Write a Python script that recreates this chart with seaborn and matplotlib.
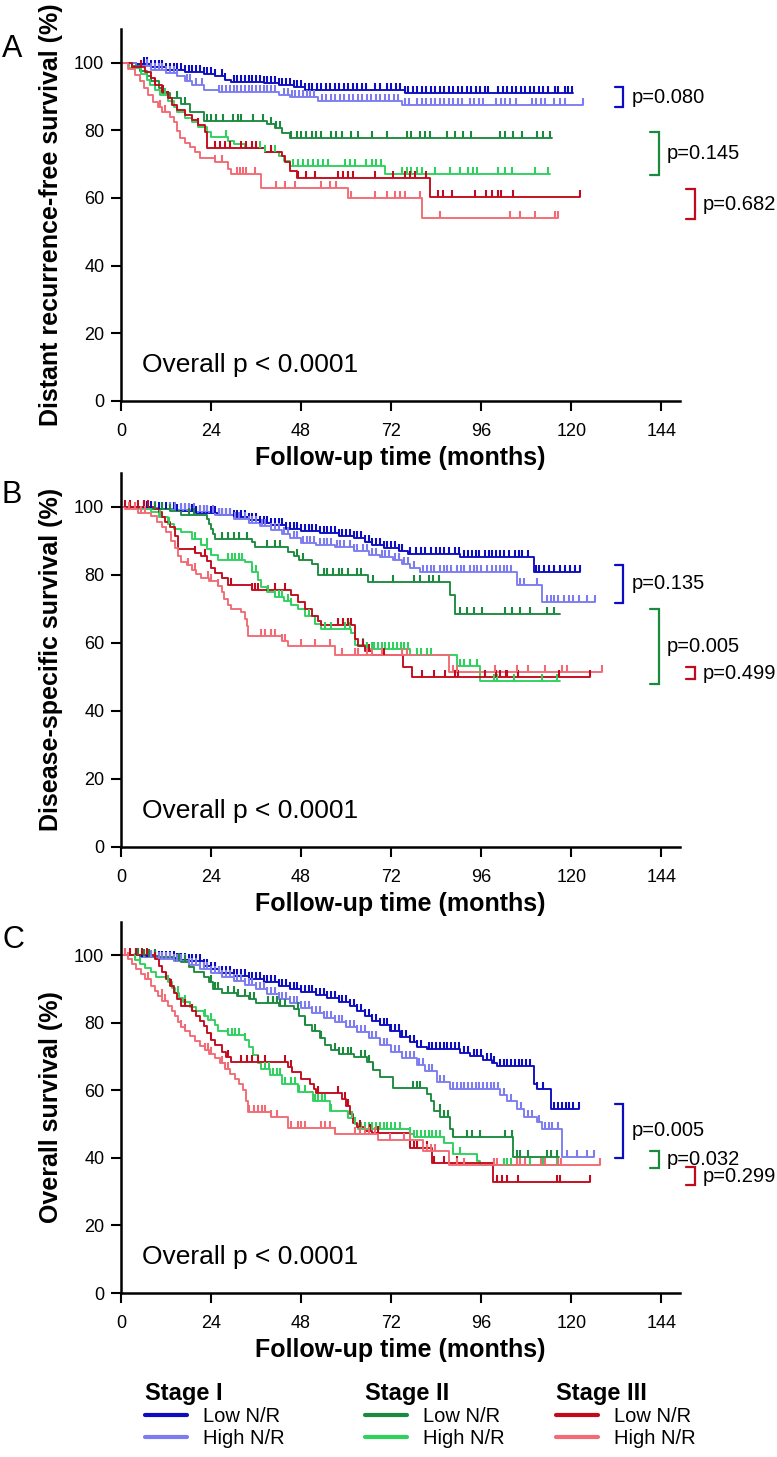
import numpy as np
import matplotlib
matplotlib.use("Agg")
import matplotlib.pyplot as plt
import seaborn as sns
from matplotlib.path import Path
from matplotlib.lines import Line2D

# ---------------- data (months, % surviving) ----------------
# Panel A: distant recurrence-free survival
a_s1_low_t = [0, 4, 8, 12, 17, 22, 25, 27.6, 29.4, 38, 42, 46, 49, 75.6]
a_s1_low_s = [100, 99.5, 98.8, 98, 97.2, 96.6, 96, 95, 94.4, 93.9, 93.4, 92.8, 92, 91]
a_s1_low_end = 120.5
a_s1_low_cens = [6, 7, 8, 9, 10, 11, 12, 13, 14, 15, 16, 17, 18, 19, 20, 21, 22, 23, 24, 25, 26.8, 27.6,
                 30, 31, 32, 33, 34, 35, 36, 37, 38, 39, 40, 41, 42, 43, 44, 45, 46, 47, 48, 49, 50, 51,
                 52.2, 53.4, 54.6, 55.8, 57, 58.2, 59.4, 60.6, 61.8, 63, 64.2, 65.4, 67.6, 69, 70.8, 72,
                 73.2, 74.4, 75.6, 76.6, 77.8, 79, 80.2, 81.4, 82.6, 83.8, 85, 86.2, 87.4, 88.6, 89.8, 91,
                 92.2, 93.4, 94.6, 95.8, 97, 97.9, 100.5, 101.7, 102.9, 104.1, 105.3, 106.5, 107.7, 108.9,
                 110.1, 111.3, 112.5, 113.9, 115.6, 116.5, 118.3, 119.2, 120.1]
a_s1_high_t = [0, 4, 8, 12, 15, 17, 19, 22, 26, 42, 45, 52.5, 74.8]
a_s1_high_s = [100, 99, 98, 97, 96, 94.5, 93.3, 92, 91.3, 90.5, 89.8, 88.6, 87.5]
a_s1_high_end = 123.2
a_s1_high_cens = [7, 8, 9, 10, 11, 12, 13, 14, 15, 17.5, 18.5, 20, 21.5, 26, 27, 28, 29, 30, 31, 32, 33,
                  34, 35, 36, 37, 38, 39, 40, 41, 43.5, 44.5, 45.5, 46.5, 47.5, 48.5, 49.5, 50.5, 51.5,
                  53.5, 54.7, 55.9, 57.1, 58.3, 59.5, 60.7, 61.9, 63.1, 64.3, 65.5, 66.7, 67.9, 69.1,
                  70.3, 71.5, 72.7, 73.9, 75.6, 76.8, 79, 80.2, 81.4, 82.6, 83.8, 85, 86.2, 87.4, 88.6,
                  89.8, 91, 93, 94.2, 95.4, 96.6, 100, 101.2, 102.4, 103.6, 105.3, 109.5, 110.7, 111.9,
                  113.1, 115.5, 117, 118.3, 123.2]
a_s2_low_t = [0, 3, 5, 7, 8, 10, 11, 13, 16, 18.3, 22, 39, 41, 43, 45]
a_s2_low_s = [100, 99, 97.5, 96, 94.5, 92.5, 91.2, 89.5, 87.8, 85.3, 82.8, 81.8, 80.8, 79.2, 77.8]
a_s2_low_end = 114.8
a_s2_low_cens = [14.8, 17, 22.8, 24.1, 25.4, 27.2, 29.9, 31.2, 32.1, 35.2, 37.9, 40.1, 41.4, 42.3, 45.4,
                 46.8, 48.1, 49.4, 50.8, 52.1, 53.4, 56.1, 57.4, 58.8, 61.4, 63.2, 66.8, 70.8, 76.1,
                 77.4, 79.6, 81, 82.3, 86.8, 89, 91.2, 93.4, 101, 102.3, 104.5, 106.8, 110.8, 112.5, 114.3]
a_s2_high_t = [0, 2, 5.4, 7, 7.6, 9, 10.5, 12.5, 14, 15, 17, 18.8, 20.5, 22.8, 24.1, 28.5, 30, 33, 38.3,
               42, 43.5, 45, 70.3]
a_s2_high_s = [100, 98.5, 96.8, 95, 93.5, 92, 90.5, 88.8, 87, 85.5, 83.8, 82.5, 81, 79.5, 78, 77, 76,
               74.8, 73.6, 72.4, 71, 69.5, 67.2]
a_s2_high_end = 114.3
a_s2_high_cens = [11.6, 28.1, 37, 38.3, 41, 45.9, 47.2, 48.5, 49.9, 51.2, 52.5, 53.9, 55.2, 59.6, 61,
                  62.3, 65.4, 66.8, 68.1, 69.4, 74.8, 76.1, 77.4, 78.8, 80.1, 83.6, 87.6, 90.3, 92.5,
                  93.9, 94.8, 100.5, 102.3, 104.1, 110.3, 113.9]
a_s3_low_t = [0, 2.8, 6.3, 8.1, 9, 10.8, 12.5, 13.5, 15, 17, 19, 20.5, 22.3, 22.8, 38.3, 42.8, 43.6, 45,
              46.8, 82.3]
a_s3_low_s = [100, 98.8, 97.3, 95.5, 93.5, 91.5, 89.5, 87.5, 86, 84.5, 83, 81.5, 79.5, 74.7, 73.7, 72.5,
              70.7, 68, 65.8, 60.4]
a_s3_low_end = 122.3
a_s3_low_cens = [5.4, 9, 11.2, 12.5, 20.5, 25, 26.3, 27.6, 29, 32.1, 33.4, 34.8, 36.1, 40.1, 47.2, 49.4,
                 51.6, 57.9, 59.2, 60.5, 61.9, 67.6, 72.5, 75.6, 77, 78.3, 81.4, 84.5, 85.9, 88.1,
                 94.3, 97.4, 98.8, 100.5, 101.4, 104.5, 122.3]
a_s3_high_t = [0, 1.9, 3.6, 5, 6, 7.2, 8.5, 9.9, 11, 13, 14, 14.8, 15.8, 17, 18.5, 19.6, 21, 25, 28.5,
               29.4, 37.4, 60.5, 80.1]
a_s3_high_s = [100, 98.3, 96.5, 94.5, 92.5, 90.5, 88.5, 87, 85.5, 84, 82.5, 79.8, 77.8, 76.3, 75, 73.5,
               71.8, 70.7, 68.7, 67, 62.8, 59.9, 54]
a_s3_high_end = 116.5
a_s3_high_cens = [10.3, 11.6, 25, 26.8, 30.8, 31.6, 32.5, 33.4, 35.6, 41.4, 43.6, 46.3, 53.4, 55.6, 57.4,
                  61.4, 67.6, 70.8, 73, 74.3, 75.6, 79.6, 85, 103.6, 106.3, 110.3, 115.6, 116.5]
a_p_text = ["p=0.080", "p=0.145", "p=0.682"]
a_p_top = [92.8, 79.6, 62.6]
a_p_bot = [86.9, 66.8, 53.7]

# Panel B: disease-specific survival
b_s1_low_t = [0, 4, 10, 15, 20, 26, 30, 34, 37, 40, 44, 48, 53, 58, 62, 65, 67, 70, 74, 76.5, 90.4, 110]
b_s1_low_s = [100, 99.7, 99.3, 98.8, 98.3, 97.6, 97, 96.2, 95.4, 94.6, 93.6, 93, 92.3, 91.5, 90.8,
              89.8, 88.8, 88, 87, 86.2, 85.4, 81]
b_s1_low_end = 122.4
b_s1_low_cens = [6, 7, 8, 9, 10, 11, 12, 13, 14, 15, 16, 17, 18, 19, 20, 21, 22, 23, 24, 25, 26, 27, 28,
                 29, 30, 31, 32, 33, 34, 35, 36, 37, 38, 39, 40, 41, 42, 43, 44, 45, 46, 47, 48, 49, 50,
                 51, 52, 53, 54, 55, 56, 57, 58, 59, 60, 61, 62, 63, 64, 65, 66, 67, 68, 69, 70, 71, 72,
                 73, 74, 75, 77, 78.5, 80, 81, 82.5, 84, 85, 86, 87.5, 89, 90, 91.5, 92.5, 93.5, 94.5,
                 95.5, 97, 98, 99, 100, 101, 102, 103.5, 105, 106, 107, 108.5, 110.5, 111.5, 112.8,
                 114, 115.5, 117, 118.3, 119.8, 121, 122.4]
b_s1_high_t = [0, 5, 10, 15, 20, 25, 30, 34, 37, 40, 43, 45, 48, 52, 57, 62, 66, 69, 72.6, 75, 77, 79.7,
               105.5, 112.2]
b_s1_high_s = [100, 99.7, 99.4, 99, 98.5, 97.6, 96.5, 95.3, 94.3, 93.3, 92, 90.8, 89.5, 88.8, 88.3, 87,
               86, 85.2, 84.3, 83.3, 82, 81, 77, 72]
b_s1_high_end = 126.4
b_s1_high_cens = [9, 11, 13, 14.5, 16, 17, 18, 19.5, 21, 22, 23, 24.5, 26, 27, 28, 29, 30.5, 31.5, 33, 34,
                  35, 36, 37.5, 38.5, 40, 41, 42, 43.5, 44.5, 46, 47, 48.5, 49.5, 50.5, 51.5, 53, 54,
                  55, 56, 57.5, 58.5, 59.5, 61, 62, 63, 64.5, 65.5, 67, 68, 69.5, 70.5, 71.5, 73, 74,
                  75.5, 76.5, 78, 80.5, 81.5, 82.5, 83.5, 85, 86, 87, 88, 89.5, 90.5, 91.5, 93, 94, 95,
                  96, 97.5, 99, 100, 101, 102, 103, 104, 106.4, 107.3, 110.8, 113.5, 114.5, 115.5,
                  116.5, 118, 119.5, 120.6, 122, 124.3, 126.4]
b_s2_low_t = [0, 8, 13, 16, 22.8, 23.5, 24, 24.5, 25, 34.8, 35.6, 44.5, 46, 47.5, 50.8, 52.5, 65.9,
              87.7, 89]
b_s2_low_s = [100, 99.5, 98.8, 97.5, 96.5, 95, 93.5, 92, 90.7, 89.8, 88.3, 86.8, 85.5, 84.5, 83.3, 80,
              77.8, 74, 68.5]
b_s2_low_end = 117
b_s2_low_cens = [9, 11, 13, 18, 19.5, 27, 28.5, 30, 31.5, 33.5, 39, 41, 42.5, 47, 48.5, 54, 55, 56.5,
                 58, 59, 60.5, 63, 64, 67.3, 72.6, 78, 79.7, 82.2, 83.2, 84.7, 90.4, 92.2, 94, 96.2,
                 102.4, 104.1, 106.4, 109, 113.5, 115.3]
b_s2_high_t = [0, 5, 8, 10, 12.5, 14, 16, 19, 21.4, 23, 24.1, 25.9, 33, 35, 36.5, 37.4, 39, 41, 43.5,
               45.4, 47.2, 49, 51.6, 53.4, 61.4, 62.3, 65, 77, 89.5, 95.7]
b_s2_high_s = [100, 99.5, 98.6, 97, 95, 93.5, 92.5, 90.5, 88.8, 87.5, 86, 84.5, 83.8, 81, 78.5, 76.5,
               75, 73.5, 72.2, 71, 70, 68, 65.5, 64, 63, 59.5, 58.2, 56.5, 53.2, 48.8]
b_s2_high_end = 117
b_s2_high_cens = [10.5, 12.8, 19.6, 21.4, 22.8, 24.1, 28.5, 29.5, 30.5, 31.5, 32.2, 35, 36, 39.2, 41, 42,
                  43, 44.5, 45.4, 50, 51.6, 54.3, 56, 59.6, 61, 64.6, 65.5, 66.8, 67.5, 68.5, 69.5,
                  70.5, 71.5, 72.5, 73.5, 74.5, 75.3, 76.6, 79, 80, 81.6, 82.5, 90.4, 91.5, 93, 94.9,
                  99.3, 100.2, 104.8, 112.2, 116.2]
b_s3_low_t = [0, 9, 10, 11, 11.6, 13, 14.3, 15.2, 19.6, 21.4, 23, 24.1, 25, 26.8, 28.5, 34.8, 45.4, 47.2,
              49, 50.8, 52.5, 53.4, 62.3, 63.2, 65, 66.8, 75.2, 77.5]
b_s3_low_s = [100, 99.5, 98.5, 97, 95.5, 94, 91.5, 87.5, 86.5, 85.5, 84, 82, 80.5, 79, 77, 75.5, 74, 72,
              70, 68, 66.5, 65.3, 61, 59.2, 57.7, 56.5, 53, 49.9]
b_s3_low_end = 125
b_s3_low_cens = [1, 2.5, 4.5, 6, 7.2, 19.6, 22.3, 29.4, 34.8, 35.6, 36.5, 41, 43.6, 57.9, 59.2, 60.5,
                 61.4, 64.6, 66, 70, 80.1, 83.3, 86.4, 89, 89.9, 97, 100, 101, 102.5, 103, 105.9,
                 116.7, 125]
b_s3_high_t = [0, 1, 4.5, 8.1, 9.5, 10.8, 12, 13.4, 14.3, 15.2, 16.1, 17.5, 18.8, 20, 21.4, 23.5, 25.9,
               26.8, 27.5, 28.5, 29.4, 32.1, 33, 33.5, 33.9, 42.8, 44.5, 57, 87.3]
b_s3_high_s = [100, 99.3, 98.3, 97.2, 95.5, 94, 92.5, 90, 88, 85.5, 83.8, 82.8, 81.5, 80.2, 79, 78.2,
               76.8, 75, 73, 71.2, 70, 69, 67, 65, 62.1, 60.5, 59, 56.5, 51.5]
b_s3_high_end = 128.2
b_s3_high_cens = [2, 3.7, 5.4, 6.3, 17.9, 19.6, 23.2, 24.1, 25.9, 37.4, 38.5, 40.1, 41, 42.8, 43.6,
                  48.1, 51.6, 55.6, 58.8, 62.3, 63.2, 65.5, 66.8, 69.5, 74.9, 76.2, 88.6, 89.5, 99.7,
                  105.5, 108.6, 113, 117.5, 118.8, 128.2]
b_p_text = ["p=0.135", "p=0.005", "p=0.499"]
b_p_top = [83, 70, 52.8]
b_p_bot = [71.8, 48, 49.3]

# Panel C: overall survival
c_s1_low_t = [0, 5, 10, 15, 18, 22, 24, 26, 30, 34, 38, 42, 45, 48, 52, 55, 58, 61, 63, 65, 67, 69,
              71.7, 74.4, 77, 79, 81.5, 90.4, 93, 96.6, 99, 100.2, 110, 110.8, 114.6]
c_s1_low_s = [100, 99.6, 99.2, 98.8, 98.3, 97, 96, 94.8, 94, 93, 92.2, 91, 90.2, 89.3, 88.3, 87.3, 86.3,
              85, 83.5, 82, 80.5, 79.3, 77.5, 75.8, 74.5, 73, 72.4, 71.2, 70.2, 69, 68, 67.2, 62, 60.5,
              54.5]
c_s1_low_end = 122
c_s1_low_cens = [4, 5.5, 7, 8, 9, 10, 11, 12, 13, 14, 15, 16, 17, 18, 19, 20, 21, 22, 23, 24, 25, 26,
                 27, 28, 29, 30, 31, 32, 33, 34, 35, 36, 37, 38, 39, 40, 41, 42, 43, 44, 45, 46, 47, 48,
                 49, 50, 51, 52, 53, 54, 55, 56, 57, 58, 59, 60, 61, 62, 63, 64, 65, 66, 67, 68, 69, 70,
                 71, 72, 73, 74, 75, 76, 77, 78, 79, 80, 82, 83, 84, 85, 86, 87, 88, 89, 90, 91.5, 92.5,
                 94, 95, 96, 97.5, 98.5, 99.5, 101, 102, 103, 104, 105, 106, 107, 108, 109, 111, 112.5,
                 115.5, 116.5, 117.5, 118.5, 119.5, 120.5, 122]
c_s1_high_t = [0, 5, 10, 14, 18, 21, 24, 27, 30, 33, 36, 39, 42, 45, 48, 51, 54, 57, 60, 63, 66, 69, 72,
               75, 78.8, 81, 84.2, 87.7, 101.1, 103, 105.5, 107.3, 110.8, 112.2, 117.6]
c_s1_high_s = [100, 99.5, 99, 98.3, 97.2, 96, 94.7, 93.6, 92.5, 91.3, 90, 88.5, 87.2, 85.8, 84.3, 83,
               81.6, 80.2, 78.8, 77.2, 75.5, 73.5, 71.5, 69.7, 67.5, 65.8, 62.5, 60.5, 58.8, 57, 54.5,
               52.2, 50.8, 48.7, 40.3]
c_s1_high_end = 126
c_s1_high_cens = [6, 8, 9, 10, 11, 12, 13, 14, 15, 16, 17, 18, 19, 20, 21, 22, 23, 24, 25, 26, 27, 28,
                  29, 30, 31, 32, 33, 34, 35, 36, 37, 38, 39, 40, 41, 42, 43, 44, 45, 46, 47, 48, 49,
                  50, 51, 52, 53, 54, 55, 56, 57, 58, 59, 60, 61, 62, 63, 64, 65, 66, 67, 68, 69, 70,
                  71, 72, 73, 74, 75, 76, 77, 78, 79.5, 80.5, 82, 83, 85, 86, 88.5, 89.5, 90.5, 91.5,
                  92.5, 93.5, 94.5, 95.5, 96.5, 97.5, 98.5, 99.5, 100.5, 102, 104, 106.5, 108.5, 109.5,
                  111.5, 113, 114, 115, 116.5, 118.9, 121.5, 124.3, 126]
c_s2_low_t = [0, 5, 10, 14, 16, 18, 19.5, 22, 23.5, 24.6, 27, 31, 34, 36, 42, 46, 47.5, 49, 51, 53, 54.5,
              56, 58, 62, 65.5, 67.3, 69, 72.6, 81.5, 82.5, 83.3, 85.1, 87.7, 88.6, 104.4]
c_s2_low_s = [100, 99.7, 99.4, 98.8, 98, 96.5, 95, 93.5, 92, 90, 89, 88, 87, 86, 85, 84.2, 82, 79.5,
              77.5, 75.5, 73.5, 72, 70.8, 69.8, 68.3, 66, 64, 60.8, 59, 57, 54, 52, 48.5, 46.3, 40.3]
c_s2_low_end = 116.7
c_s2_low_cens = [4.5, 6, 7.5, 9, 15.5, 17, 24.1, 25, 25.9, 28.5, 30, 31.2, 33, 34.5, 35.5, 39.2, 40.5,
                 41.5, 42.5, 43.6, 47.2, 49, 51.6, 53.4, 57, 58, 59.2, 60.5, 61.4, 64, 65, 66, 67.3,
                 77.8, 78.8, 79.7, 85, 86, 87.2, 88.6, 92.2, 93.5, 95.7, 102.4, 104.2, 105.5, 106.4,
                 108.6, 113.5, 114.5, 116.2]
c_s2_high_t = [0, 3.6, 5, 6.3, 8, 9.4, 12.5, 13.5, 14.3, 15.5, 16.5, 18.5, 20.1, 22, 23.2, 25, 25.9,
               28.5, 33, 34, 35.2, 36.5, 37.4, 39.6, 42.8, 47.2, 51.2, 55.6, 60.5, 62.3, 63.2, 77, 78,
               86, 88.6, 94.8, 95.7]
c_s2_high_s = [100, 98.8, 97.5, 96.3, 95, 93.5, 92, 90.5, 89, 87.5, 86.2, 84.8, 83.5, 82.2, 81, 79.5,
               77.5, 76.5, 75, 73, 70.5, 68, 66.5, 64.5, 62, 59.5, 57, 54, 51.8, 50, 48.5, 47.2, 46.3,
               44.5, 41.3, 39, 37.9]
c_s2_high_end = 117.1
c_s2_high_cens = [3.6, 5, 12.5, 15.2, 17, 22.3, 24.1, 28.5, 29.5, 30.5, 31.5, 33, 38.3, 39.5, 40.5,
                  41.5, 42.5, 43.6, 45.4, 46.5, 47.5, 49, 51.6, 52.5, 53.5, 54.5, 56.1, 60.5, 61.5,
                  62.3, 64, 65, 66, 67, 68, 69, 70, 71, 72, 73, 74.4, 77, 78, 79, 80, 81, 82, 83, 84, 85,
                  86, 88.6, 90.4, 94.8, 99.3, 102, 103, 104, 105.5, 109, 112.6, 116.2]
c_s3_low_t = [0, 9, 10, 11, 12, 13, 14, 15, 16, 18.8, 20, 21, 22, 23, 24, 25, 26.8, 28, 29.4, 44.5, 45.5,
              48, 50.3, 51.5, 52.1, 58.8, 60, 61, 61.9, 62.8, 65, 66.8, 77, 83, 99.2]
c_s3_low_s = [100, 99, 97, 95, 93, 91, 89, 87, 85, 83.5, 82, 80.5, 79, 77, 75, 73.5, 71.5, 70, 68.4, 67,
              65.5, 63.5, 62, 60.5, 59.2, 57.5, 55.5, 53, 50.5, 49.2, 48, 47.3, 43, 38.5, 33]
c_s3_low_end = 125
c_s3_low_cens = [1, 2.5, 4, 5.5, 7, 9, 12, 13.4, 17, 18.8, 24.1, 28.5, 32, 33.5, 35, 36.5, 38.3, 43.6,
                 45.4, 52.5, 57.9, 59.6, 60.5, 63.7, 66.3, 68.6, 77, 78, 78.8, 81.5, 83.3, 86, 89.5,
                 100.2, 101.5, 102.8, 105.9, 116.2, 117.1, 125]
c_s3_high_t = [0, 1.9, 3, 4, 5.4, 6.5, 8.1, 9, 9.9, 11, 12.5, 13.5, 14.5, 15.2, 16, 17, 18.5, 19.6, 21,
               22.3, 23.5, 25, 26.5, 27.6, 29, 30.3, 31.5, 32.5, 33.4, 33.9, 40, 44.5, 57, 68.6, 80.6,
               87.3]
c_s3_high_s = [100, 99, 97.5, 96, 94.5, 93, 91, 89.5, 88, 86.5, 85, 83.5, 82, 80.2, 78.8, 77.5, 76,
               74.7, 73.2, 72, 70.8, 69.5, 68, 66.5, 65, 63.5, 62, 60, 57, 53.5, 52, 49, 47, 45.3, 42,
               37.9]
c_s3_high_end = 127.7
c_s3_high_cens = [1, 1.9, 7.2, 10.8, 11.6, 16.1, 17, 22.3, 23.2, 24.1, 26.8, 27.6, 28.5, 34, 35.5,
                  36.5, 37.5, 38.5, 40, 41.5, 45.4, 47.2, 48.1, 49, 53.4, 54.5, 55.6, 57, 62.3, 63.7,
                  65, 66, 67.6, 71.7, 75.3, 77, 81.5, 82.5, 83.8, 89.5, 91.3, 99.3, 100.2, 105.5,
                  106.4, 107.8, 112, 113, 116.5, 117.3, 127.7]
c_p_text = ["p=0.005", "p=0.032", "p=0.299"]
c_p_top = [56.1, 42.1, 37.2]
c_p_bot = [40, 36.9, 32]

x_ticks = [0, 24, 48, 72, 96, 120, 144]
y_ticks = [0, 20, 40, 60, 80, 100]
group_labels = ["Low N/R", "High N/R"]
stage_titles = ["Stage I", "Stage II", "Stage III"]

# ---------------- style ----------------
col_low = ["#0c0cc0", "#1b8a3e", "#c20a1c"]
col_high = ["#7c7cf0", "#2fd05e", "#f26a74"]

sns.set_style("ticks")
plt.rcParams["font.family"] = ["Liberation Sans", "DejaVu Sans"]
plt.rcParams.update({"text.color": "black", "axes.labelcolor": "black",
                     "axes.edgecolor": "black", "xtick.color": "black", "ytick.color": "black"})

W, H = 777, 1457
fig = plt.figure(figsize=(W / 100, H / 100), dpi=100)

panels = [
    ("A", "Distant recurrence-free survival (%)", 400.7, 371.7, 56.7,
     [(a_s1_low_t, a_s1_low_s, a_s1_low_end, a_s1_low_cens),
      (a_s1_high_t, a_s1_high_s, a_s1_high_end, a_s1_high_cens),
      (a_s2_low_t, a_s2_low_s, a_s2_low_end, a_s2_low_cens),
      (a_s2_high_t, a_s2_high_s, a_s2_high_end, a_s2_high_cens),
      (a_s3_low_t, a_s3_low_s, a_s3_low_end, a_s3_low_cens),
      (a_s3_high_t, a_s3_high_s, a_s3_high_end, a_s3_high_cens)],
     a_p_text, a_p_top, a_p_bot),
    ("B", "Disease-specific survival (%)", 846.7, 373.7, 503.3,
     [(b_s1_low_t, b_s1_low_s, b_s1_low_end, b_s1_low_cens),
      (b_s1_high_t, b_s1_high_s, b_s1_high_end, b_s1_high_cens),
      (b_s2_low_t, b_s2_low_s, b_s2_low_end, b_s2_low_cens),
      (b_s2_high_t, b_s2_high_s, b_s2_high_end, b_s2_high_cens),
      (b_s3_low_t, b_s3_low_s, b_s3_low_end, b_s3_low_cens),
      (b_s3_high_t, b_s3_high_s, b_s3_high_end, b_s3_high_cens)],
     b_p_text, b_p_top, b_p_bot),
    ("C", "Overall survival (%)", 1293, 371.3, 948.3,
     [(c_s1_low_t, c_s1_low_s, c_s1_low_end, c_s1_low_cens),
      (c_s1_high_t, c_s1_high_s, c_s1_high_end, c_s1_high_cens),
      (c_s2_low_t, c_s2_low_s, c_s2_low_end, c_s2_low_cens),
      (c_s2_high_t, c_s2_high_s, c_s2_high_end, c_s2_high_cens),
      (c_s3_low_t, c_s3_low_s, c_s3_low_end, c_s3_low_cens),
      (c_s3_high_t, c_s3_high_s, c_s3_high_end, c_s3_high_cens)],
     c_p_text, c_p_top, c_p_bot),
]

curve_colors = [col_low[0], col_high[0], col_low[1], col_high[1], col_low[2], col_high[2]]
bracket_x0 = [131.7, 141.1, 150.7]
bracket_x1 = [133.9, 143.5, 153.1]
ptext_x = [136.2, 145.5, 155.1]

# censor mark: short vertical stroke rising from the curve
tick_mark = Path([(0, 0), (0, 1)])

for letter, ylab, y_bottom_px, h_px, letter_base_px, curves, ptxt, ptop, pbot in panels:
    ax = fig.add_axes([121 / W, 1 - y_bottom_px / H, 559 / W, h_px / H])
    for (t, s, end, cens), color in zip(curves, curve_colors):
        sns.lineplot(x=list(t) + [end], y=list(s) + [s[-1]], drawstyle="steps-post",
                     estimator=None, sort=False, color=color, linewidth=1.35, ax=ax)
        idx = np.searchsorted(np.asarray(t), np.asarray(cens), side="right") - 1
        cs = np.asarray(s)[idx]
        sns.scatterplot(x=cens, y=cs, marker=tick_mark, s=95, color=color, edgecolor=color,
                        linewidth=1.5, ax=ax, zorder=3)

    ax.set_xlim(0, 149)
    ax.set_ylim(0, 110)
    ax.set_xticks(x_ticks)
    ax.set_yticks(y_ticks)
    sns.despine(ax=ax)
    for sp in ("left", "bottom"):
        ax.spines[sp].set_linewidth(1.8)
    ax.tick_params(length=7, width=1.5, labelsize=13, colors="black")
    ax.tick_params(axis="x", pad=9)
    ax.tick_params(axis="y", pad=5)
    ax.set_xlabel("Follow-up time (months)", fontsize=18, fontweight="bold")
    ax.xaxis.set_label_coords(0.5, -0.122)
    ax.set_ylabel(ylab, fontsize=18, fontweight="bold")
    ax.yaxis.set_label_coords(-0.103, 0.5)

    ax.text(5.5, 8.5, "Overall p < 0.0001", fontsize=19, va="baseline", ha="left")

    for i in range(3):
        ax.plot([bracket_x0[i], bracket_x1[i], bracket_x1[i], bracket_x0[i]],
                [ptop[i], ptop[i], pbot[i], pbot[i]], color=col_low[i], lw=1.6,
                clip_on=False, solid_joinstyle="miter")
        ax.text(ptext_x[i], (ptop[i] + pbot[i]) / 2, ptxt[i], fontsize=14.5,
                va="center", ha="left", clip_on=False)

    fig.text(2 / W, 1 - letter_base_px / H, letter, fontsize=22, va="baseline", ha="left")

# legend at the bottom: one block per stage
legend_x = [145, 365, 556]
for i in range(3):
    handles = [Line2D([], [], color=col_low[i], lw=3), Line2D([], [], color=col_high[i], lw=3)]
    fig.legend(handles, group_labels, title=stage_titles[i], loc="upper left",
               bbox_to_anchor=(legend_x[i] / W, 1 - 1382 / H), frameon=False, fontsize=14.5,
               title_fontproperties={"weight": "bold", "size": 17}, alignment="left",
               handlelength=2.1, handletextpad=0.8, labelspacing=0.12, borderpad=0,
               borderaxespad=0)

fig.savefig("out.png", dpi=100)
